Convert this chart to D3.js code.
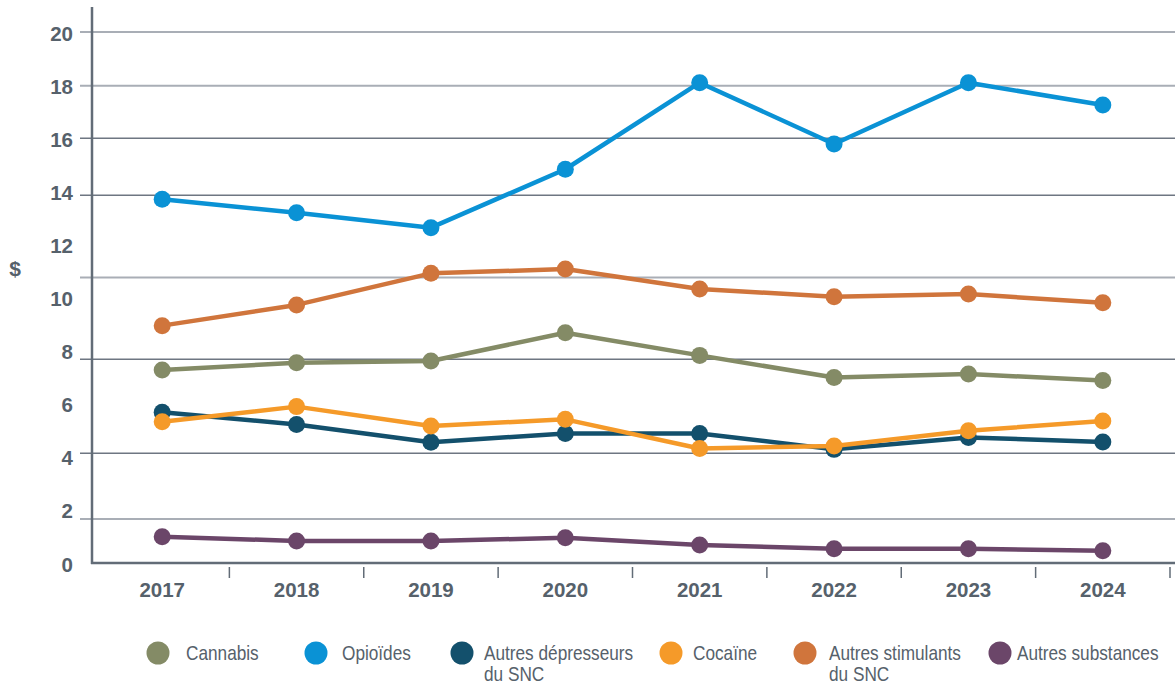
<!DOCTYPE html>
<html><head><meta charset="utf-8">
<script src="https://cdn.jsdelivr.net/npm/d3@7"></script>
<style>
html,body{margin:0;padding:0;background:#fff;}
svg{display:block;}
</style></head>
<body>
<svg id="chart" width="1175" height="685"></svg>
<script>
// ---- Data ----
const years = ["2017","2018","2019","2020","2021","2022","2023","2024"];
const cannabis     = [7.27, 7.54, 7.61, 8.67, 7.82, 6.99, 7.12, 6.87];
const opioides     = [13.70, 13.19, 12.63, 14.83, 18.09, 15.78, 18.09, 17.25];
const depresseurs  = [5.68, 5.22, 4.55, 4.88, 4.88, 4.28, 4.73, 4.56];
const cocaine      = [5.32, 5.89, 5.16, 5.41, 4.31, 4.41, 4.98, 5.35];
const stimulants   = [8.94, 9.72, 10.91, 11.07, 10.32, 10.03, 10.13, 9.80];
const autres       = [0.99, 0.83, 0.83, 0.95, 0.68, 0.54, 0.54, 0.46];
const yTickLabels  = [0, 2, 4, 6, 8, 10, 12, 14, 16, 18, 20];
const gridLight    = [20, 17.98, 10.75, 1.66];
const gridDark     = [16, 13.85, 7.67, 4.13];
const seriesNames  = ["Cannabis", "Opioïdes", "Autres dépresseurs\ndu SNC", "Cocaïne", "Autres stimulants\ndu SNC", "Autres substances"];

// ---- Styles ----
const colors = {
  "Cannabis": "#848b66",
  "Opioïdes": "#0a92d5",
  "Autres dépresseurs\ndu SNC": "#13506c",
  "Cocaïne": "#f59a29",
  "Autres stimulants\ndu SNC": "#d0753c",
  "Autres substances": "#6b4669"
};
const valuesByName = {
  "Cannabis": cannabis,
  "Opioïdes": opioides,
  "Autres dépresseurs\ndu SNC": depresseurs,
  "Cocaïne": cocaine,
  "Autres stimulants\ndu SNC": stimulants,
  "Autres substances": autres
};
const drawOrder = ["Cannabis", "Opioïdes", "Autres stimulants\ndu SNC", "Autres dépresseurs\ndu SNC", "Cocaïne", "Autres substances"];
const textGray = "#56616b";
const axisGray = "#626c77";
const numFont = "'Liberation Sans', Arial, Helvetica, sans-serif";
const legFont = "'Liberation Sans', Arial, Helvetica, sans-serif";

(function () {
const svg = d3.select("#chart");
const mLeft = 92, mBottom = 563, mTop = 7, mRight = 1175;

const x = d3.scaleBand().domain(years).range([95, 1170]).paddingInner(0).paddingOuter(0);
const y = d3.scaleLinear().domain([0, 20]).range([563, 32]);
const cx = d => x(d) + x.bandwidth() / 2;

// gridlines
const g = svg.append("g");
g.selectAll("line.gl").data(gridLight).join("line").attr("class", "gl")
  .attr("x1", mLeft - 12).attr("x2", mRight)
  .attr("y1", d => y(d)).attr("y2", d => y(d))
  .attr("stroke", "#a9aeb6").attr("stroke-width", 2);
g.selectAll("line.gd").data(gridDark).join("line").attr("class", "gd")
  .attr("x1", mLeft - 12).attr("x2", mRight)
  .attr("y1", d => y(d)).attr("y2", d => y(d))
  .attr("stroke", "#6e7682").attr("stroke-width", 1.5);

// y tick labels
svg.append("g").selectAll("text").data(yTickLabels).join("text")
  .attr("x", 73).attr("y", d => y(d) + 8.5)
  .attr("text-anchor", "end")
  .attr("font-family", numFont).attr("font-weight", "bold").attr("font-size", 20.5)
  .attr("fill", textGray)
  .text(d => d);

// $ label
svg.append("text").attr("x", 15).attr("y", 276).attr("text-anchor", "middle")
  .attr("font-family", numFont).attr("font-weight", "bold").attr("font-size", 21)
  .attr("fill", textGray).text("$");

// axes lines
svg.append("line").attr("x1", mLeft).attr("x2", mLeft).attr("y1", mTop).attr("y2", mBottom + 1)
  .attr("stroke", axisGray).attr("stroke-width", 2.5);
svg.append("line").attr("x1", mLeft - 1).attr("x2", mRight).attr("y1", mBottom).attr("y2", mBottom)
  .attr("stroke", axisGray).attr("stroke-width", 2.5);

// x ticks at band boundaries
svg.append("g").selectAll("line").data(years).join("line")
  .attr("x1", d => x(d) + x.bandwidth()).attr("x2", d => x(d) + x.bandwidth())
  .attr("y1", 567).attr("y2", 578)
  .attr("stroke", axisGray).attr("stroke-width", 1.5);

// x labels
svg.append("g").selectAll("text").data(years).join("text")
  .attr("x", d => cx(d)).attr("y", 597)
  .attr("text-anchor", "middle")
  .attr("font-family", numFont).attr("font-weight", "bold").attr("font-size", 20.5)
  .attr("fill", textGray)
  .text(d => d);

// series
const line = d3.line().x((d, i) => cx(years[i])).y(d => y(d));
drawOrder.forEach(name => {
  const vals = valuesByName[name];
  const sg = svg.append("g");
  sg.append("path").datum(vals).attr("d", line)
    .attr("fill", "none").attr("stroke", colors[name]).attr("stroke-width", 4.5)
    .attr("stroke-linejoin", "round");
  sg.selectAll("circle").data(vals).join("circle")
    .attr("cx", (d, i) => cx(years[i])).attr("cy", d => y(d)).attr("r", 8.5)
    .attr("fill", colors[name]);
});

// legend
const legCircleX = [158, 316, 462, 671, 805, 1000];
const legTextX   = [186, 342, 484, 693, 829, 1017];
const lg = svg.append("g");
seriesNames.forEach((name, i) => {
  lg.append("circle").attr("cx", legCircleX[i]).attr("cy", 653).attr("r", 11.5).attr("fill", colors[name]);
  const t = lg.append("text")
    .attr("transform", `translate(${legTextX[i]},660) scale(0.82,1)`)
    .attr("font-family", legFont).attr("font-size", 21).attr("fill", textGray);
  name.split("\n").forEach((ln, j) => {
    t.append("tspan").attr("x", 0).attr("dy", j === 0 ? 0 : 21).text(ln);
  });
});
})();
</script>
</body></html>
